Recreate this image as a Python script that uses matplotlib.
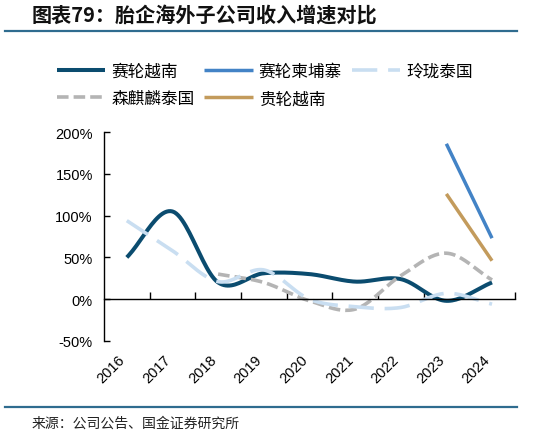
import numpy as np
import matplotlib.pyplot as plt
import matplotlib.transforms as mtransforms
from matplotlib.lines import Line2D

plt.rcParams['font.family'] = ['Liberation Sans', 'Noto Sans CJK SC', 'DejaVu Sans']

# ── data ──────────────────────────────────────────────────────────────────────
years = ["2016", "2017", "2018", "2019", "2020", "2021", "2022", "2023", "2024"]
nan = np.nan
sailun_vn = [0.50, 1.05, 0.20, 0.31, 0.30, 0.21, 0.24, -0.02, 0.20]
sailun_kh = [nan, nan, nan, nan, nan, nan, nan, 1.86, 0.73]
linglong_th = [0.94, 0.58, 0.21, 0.35, 0.00, -0.09, -0.10, 0.07, -0.06]
senqilin_th = [nan, nan, 0.30, 0.20, -0.02, -0.12, 0.28, 0.55, 0.23]
guilun_vn = [nan, nan, nan, nan, nan, nan, nan, 1.26, 0.46]

SERIES = [
    # label, values, color, lw, dashes
    ("赛轮越南",   sailun_vn,   "#0B4C6F", 2.9, None),
    ("森麒麟泰国", senqilin_th, "#B4B4B4", 2.6, (3.2, 1.4)),
    ("赛轮柬埔寨", sailun_kh,   "#4383C6", 2.5, None),
    ("贵轮越南",   guilun_vn,   "#C39B5C", 2.5, None),
    ("玲珑泰国",   linglong_th, "#C9DEF1", 2.6, (7, 3)),
]


def smooth(x, y, n=24):
    """Catmull-Rom style smoothing (like Excel's smoothed line), per contiguous run."""
    x = np.asarray(x, float)
    y = np.asarray(y, float)
    ok = ~np.isnan(y)
    xs, ys = x[ok], y[ok]
    if len(xs) < 3:
        return xs, ys
    px = np.concatenate([[2 * xs[0] - xs[1]], xs, [2 * xs[-1] - xs[-2]]])
    py = np.concatenate([[2 * ys[0] - ys[1]], ys, [2 * ys[-1] - ys[-2]]])
    out_x, out_y = [], []
    t = np.linspace(0, 1, n, endpoint=False)
    for i in range(1, len(px) - 2):
        p0, p1, p2, p3 = [np.array([px[j], py[j]]) for j in range(i - 1, i + 3)]
        c1 = p1 + (p2 - p0) / 6
        c2 = p2 - (p3 - p1) / 6
        b = ((1 - t) ** 3)[:, None] * p1 + (3 * (1 - t) ** 2 * t)[:, None] * c1 \
            + (3 * (1 - t) * t ** 2)[:, None] * c2 + (t ** 3)[:, None] * p2
        out_x.extend(b[:, 0]); out_y.extend(b[:, 1])
    out_x.append(xs[-1]); out_y.append(ys[-1])
    return np.array(out_x), np.array(out_y)


fig = plt.figure(figsize=(5.59, 4.35), dpi=100)
ax = fig.add_axes([0.186, 0.214, 0.735, 0.480])

x = np.arange(len(years))
handles = []
for label, vals, color, lw, dashes in SERIES:
    sx, sy = smooth(x, vals)
    ln, = ax.plot(sx, sy, color=color, lw=lw, solid_capstyle="butt",
                  dash_capstyle="butt", label=label)
    if dashes:
        ln.set_dashes(dashes)
    handles.append(ln)

ax.set_xlim(-0.5, len(years) - 0.5)
ax.set_ylim(-0.5, 2.0)
ax.set_yticks([-0.5, 0, 0.5, 1.0, 1.5, 2.0])
ax.set_yticklabels([f"{v:.0%}" for v in [-0.5, 0, 0.5, 1.0, 1.5, 2.0]], fontsize=10.5)
ax.tick_params(axis="y", direction="in", length=4, width=1, pad=8)

for s in ["top", "right"]:
    ax.spines[s].set_visible(False)
ax.spines["left"].set_linewidth(1)
ax.spines["bottom"].set_position(("data", 0))
ax.spines["bottom"].set_linewidth(1)
ax.set_xticks(np.arange(len(years)) + 0.5)
ax.tick_params(axis="x", direction="in", length=5, width=1, labelbottom=False)

sec = ax.secondary_xaxis(0.0)
sec.set_xticks(x)
sec.set_xticklabels(years, rotation=45, ha="right", va="top",
                    rotation_mode="anchor", fontsize=10.5)
sec.tick_params(length=0, pad=8)
sec.spines["bottom"].set_visible(False)
shift = mtransforms.ScaledTranslation(-9 / 100, 0, fig.dpi_scale_trans)
for lab in sec.get_xticklabels():
    lab.set_transform(lab.get_transform() + shift)

fig.legend(handles=handles, ncol=3, loc="upper left", bbox_to_anchor=(0.102, 0.853),
           frameon=False, handlelength=2.9, handletextpad=0.36,
           columnspacing=0.6, labelspacing=0.62, borderaxespad=0, borderpad=0,
           prop={"family": ["Noto Sans CJK SC"], "size": 12})

# title, rules and source
fig.text(0.057, 0.962, "图表79：胎企海外子公司收入增速对比", fontsize=14.5,
         fontweight="bold", family=["Noto Sans CJK SC"], va="center", color="#111111")
fig.add_artist(Line2D([0.009, 0.925], [0.926, 0.926], color="#2F6C8F", lw=1.6))
fig.add_artist(Line2D([0.009, 0.925], [0.062, 0.062], color="#2F6C8F", lw=1.6))
fig.text(0.057, 0.027, "来源：公司公告、国金证券研究所", fontsize=10,
         family=["Noto Sans CJK SC"], va="center", color="#222222")

fig.savefig("out.png", dpi=100)
